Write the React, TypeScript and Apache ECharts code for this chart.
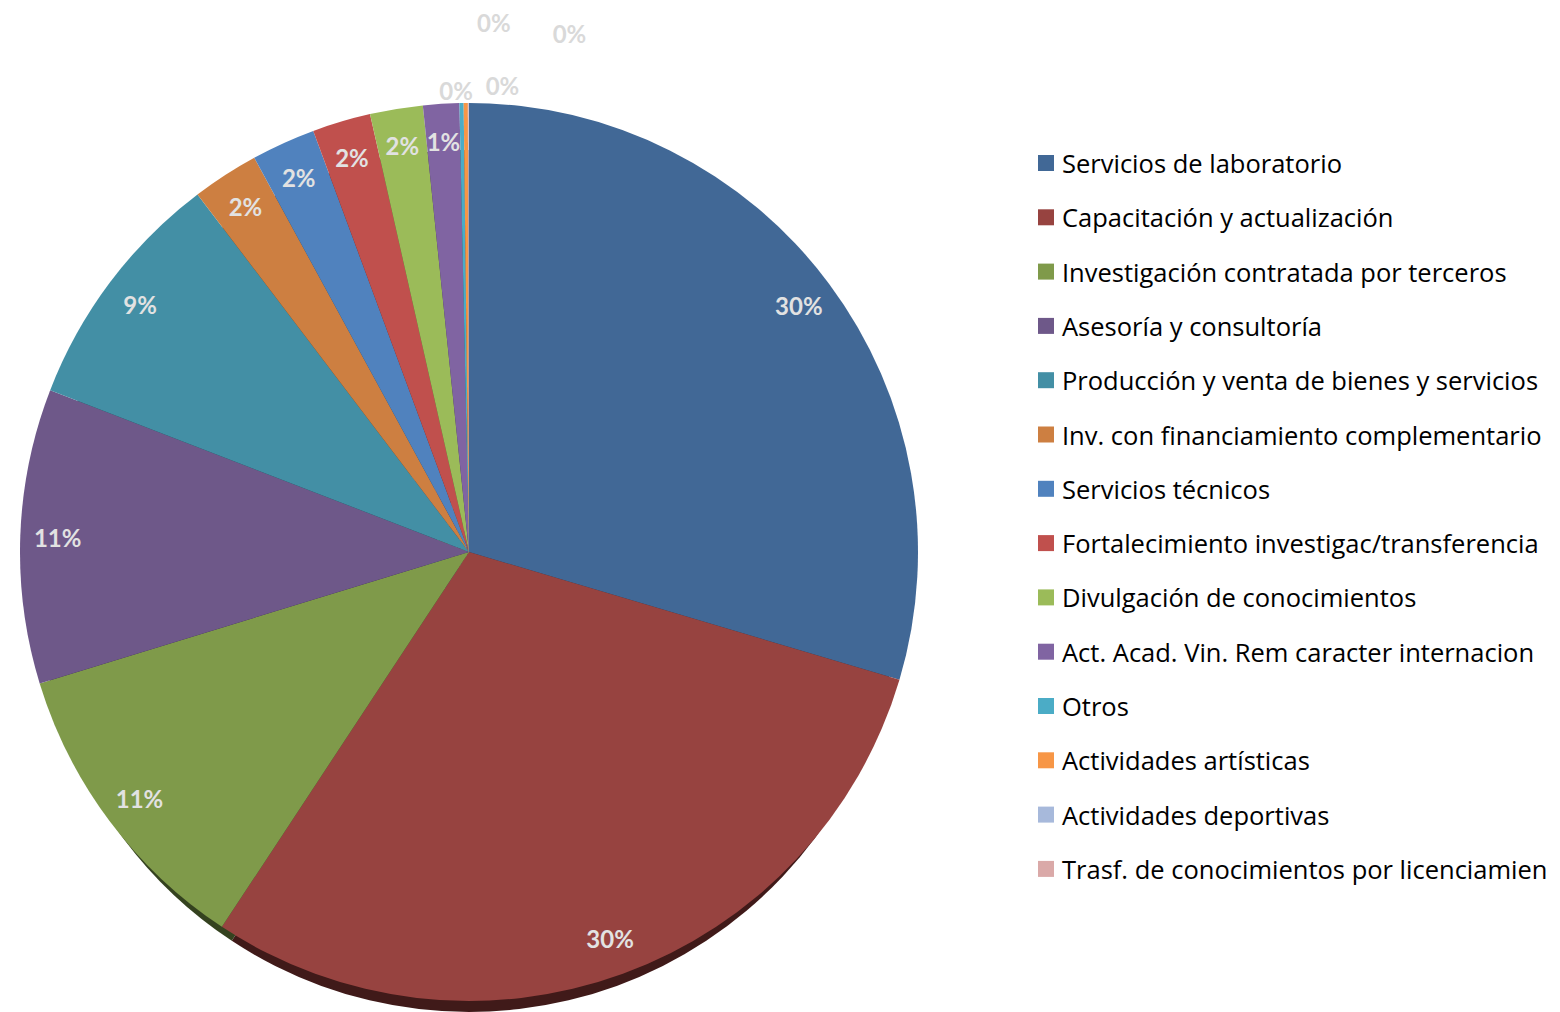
import React, { useEffect, useRef } from 'react';
import * as echarts from 'echarts';

const categories = [
  'Servicios de laboratorio',
  'Capacitación y actualización',
  'Investigación contratada por terceros',
  'Asesoría y consultoría',
  'Producción y venta de bienes y servicios',
  'Inv. con financiamiento complementario',
  'Servicios técnicos',
  'Fortalecimiento investigac/transferencia',
  'Divulgación de conocimientos',
  'Act. Acad. Vin. Rem caracter internacion',
  'Otros',
  'Actividades artísticas',
  'Actividades deportivas',
  'Trasf. de conocimientos por licenciamien',
];
const values = [29.6, 29.7, 11.0, 10.6, 8.8, 2.4, 2.3, 2.1, 1.9, 1.3, 0.15, 0.15, 0.02, 0.02];
const colors = [
  '#416896', '#974340', '#7f9a4a', '#6e5889', '#438fa5', '#cd7f41', '#5082be',
  '#c0504d', '#9bbb59', '#8064a2', '#4bacc6', '#f79646', '#a7b9db', '#daa9a8',
];
const rimColors = [
  '#22384f', '#401a19', '#34421f', '#2f2540', '#1e3f49', '#5c381c', '#26405e',
  '#5a2423', '#4a5a2a', '#3c2f4d', '#22525e', '#744520', '#4f5868', '#6a5050',
];

const CX = 469;
const CY = 552;
const R = 449;
const RIM_SHRINK = 18;
const RIM_OFFSET = 29;

// label line lengths / horizontal shifts for the tiny (0%) slices, by index
const tinyLineLength: Record<number, number> = { 10: 13, 11: 18, 12: 81, 13: 70 };
const tinyShiftX: Record<number, number> = { 10: -17, 11: 25, 12: 14, 13: 89 };

export default function App() {
  const ref = useRef<HTMLDivElement>(null);
  useEffect(() => {
    if (!ref.current) return;
    const chart = echarts.init(ref.current, undefined, { renderer: 'svg' });
    const mainData = categories.map((name, i) => ({
      name,
      value: values[i],
      itemStyle: { color: colors[i] },
    }));
    const rimData = categories.map((name, i) => ({
      name,
      value: values[i],
      itemStyle: { color: rimColors[i] },
    }));
    const total = values.reduce((a, b) => a + b, 0);
    const isTiny = (i: number) => (values[i] / total) * 100 < 0.5;
    const labelData = categories.map((name, i) => {
      const small = isTiny(i);
      return {
        name,
        value: values[i],
        label: small
          ? { position: 'outside', color: '#d9d9d9' }
          : { position: 'inside', color: '#e2e2e2' },
        labelLine: { show: false, length: small ? tinyLineLength[i] ?? 10 : 10, length2: 0 },
      };
    });
    chart.setOption({
      animation: false,
      backgroundColor: '#ffffff',
      legend: {
        orient: 'vertical',
        left: 1038,
        top: 150,
        padding: 0,
        icon: 'rect',
        itemWidth: 16,
        itemHeight: 16,
        itemGap: 28.3,
        data: categories,
        selectedMode: false,
        textStyle: {
          fontFamily: 'Open Sans',
          fontSize: 25.5,
          color: '#000000',
          padding: [0, 0, 0, 3],
        },
      },
      series: [
        {
          type: 'pie',
          name: 'main',
          z: 2,
          center: [CX, CY],
          radius: [0, R],
          startAngle: 90,
          clockwise: true,
          label: { show: false },
          labelLine: { show: false },
          emphasis: { disabled: true },
          data: mainData,
        },
        {
          type: 'pie',
          name: 'rim',
          z: 1,
          silent: true,
          center: [CX, CY + RIM_OFFSET],
          radius: [0, R - RIM_SHRINK],
          startAngle: 90,
          clockwise: true,
          label: { show: false },
          labelLine: { show: false },
          data: rimData,
        },
        {
          type: 'pie',
          name: 'labels',
          z: 3,
          silent: true,
          center: [CX, CY],
          radius: [R * 0.82, R],
          startAngle: 90,
          clockwise: true,
          itemStyle: { color: 'rgba(0,0,0,0)' },
          avoidLabelOverlap: false,
          label: {
            show: true,
            fontFamily: 'Lato',
            fontWeight: 'bold',
            fontSize: 24,
            formatter: (p: any) => Math.round(p.percent) + '%',
          },
          labelLayout: (p: any) =>
            isTiny(p.dataIndex) ? { align: 'left', dx: tinyShiftX[p.dataIndex] ?? 0 } : {},
          data: labelData,
        },
      ],
    });
    return () => chart.dispose();
  }, []);
  return (
    <div
      ref={ref}
      style={{ position: 'absolute', left: 0, top: 0, width: 1560, height: 1012 }}
    />
  );
}
